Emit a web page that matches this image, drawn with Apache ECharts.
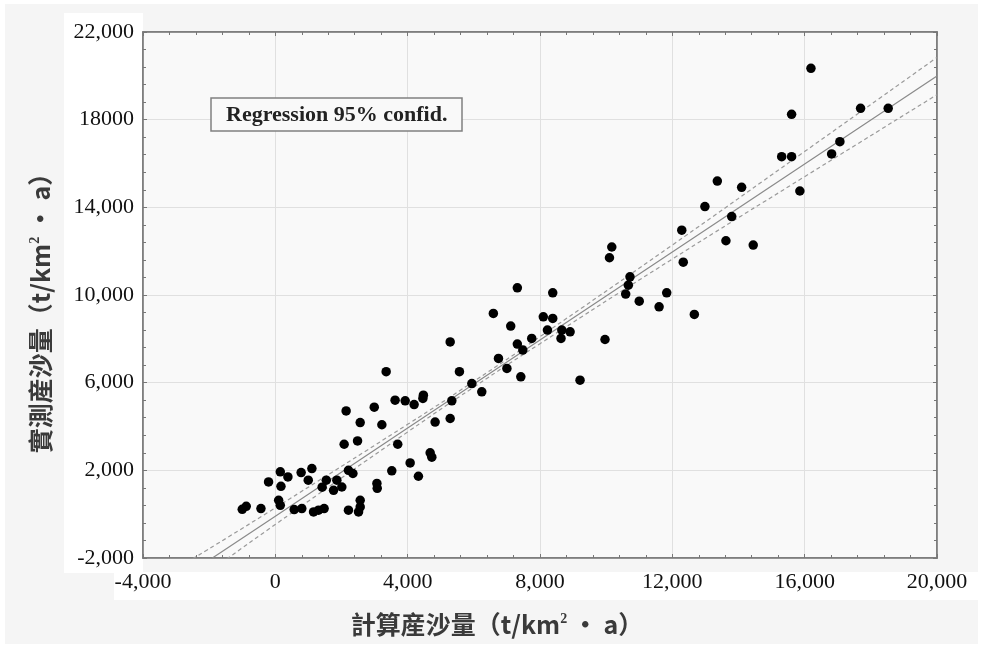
<!DOCTYPE html>
<html>
<head>
<meta charset="utf-8">
<script src="https://cdn.jsdelivr.net/npm/echarts@6/dist/echarts.min.js"></script>
<style>
html,body{margin:0;padding:0;background:#fff;}
#chart{width:983px;height:648px;}
</style>
</head>
<body>
<div id="chart"></div>
<script>
// Scatter points: calculated (x) vs measured (y) sediment yield
const calcX = [-1000,-880,-435,-205,150,380,170,100,150,570,800,780,1105,995,1155,1305,1475,1540,1415,1860,
  1760,2010,2210,2345,2210,2565,2565,2515,2080,2485,2140,2565,2990,3220,3350,3620,3925,4195,4475,4460,
  3700,3070,3080,3520,4075,4325,4680,4730,4830,5285,5335,5285,5565,5940,6240,6745,6590,7000,7115,7315,
  7315,7480,7420,7750,8100,8385,8225,8385,8660,8910,8635,9210,9965,10170,10100,10590,10670,10720,11000,11600,
  11830,12285,12330,12665,12985,13360,13620,13795,14095,14445,15305,15605,15605,15855,16190,16815,17065,17690,18525];
const measY = [220,360,255,1470,1930,1700,1270,635,405,210,255,1900,2080,1550,100,180,255,1550,1230,1550,
  1090,1240,2000,1855,180,635,330,100,3190,3340,4710,4180,4880,4080,6500,5200,5170,5000,5430,5280,
  3190,1400,1180,1980,2340,1730,2800,2600,4200,4365,5170,7860,6500,5960,5580,7105,9160,6650,8580,10330,
  7760,7485,6265,8020,9005,8930,8400,10100,8400,8320,8020,6115,7970,12190,11700,10040,10450,10830,9720,9460,
  10100,12960,11500,9115,14035,15200,12475,13580,14915,12280,16310,16310,18245,14745,20345,16435,16995,18520,18520];

// Regression line and 95% confidence band
const bandX  = [-2500, 0, 4000, 6000, 8000, 12000, 16000, 20000];
const fitY   = [-2600, -90, 3926, 5934, 7942, 11958, 15974, 19990];
const upperY = [-2040, 290, 4100, 6060, 8100, 12280, 16550, 20840];
const lowerY = [-3160, -470, 3750, 5800, 7780, 11640, 15400, 19140];

const xTickLabels = {'-4000':'-4,000','0':'0','4000':'4,000','8000':'8,000','12000':'12,000','16000':'16,000','20000':'20,000'};
const yTickLabels = {'-2000':'-2,000','2000':'2,000','6000':'6,000','10000':'10,000','14000':'14,000','18000':'18000','22000':'22,000'};

const legendText = 'Regression 95% confid.';
const xName = '計算産沙量（t/km{sup|2} • a）';
const yName = '實測産沙量（t/km{sup|2} • a）';

const zip = (a, b) => a.map((v, i) => [v, b[i]]);

const chart = echarts.init(document.getElementById('chart'), null, {renderer: 'canvas'});

const tickColor = '#777';
const serif = '"Liberation Serif", "Times New Roman", serif';
const cjk = '"Noto Sans CJK TC", "Noto Sans CJK JP", sans-serif';
const nameStyle = {
  fontFamily: cjk, fontSize: 25, fontWeight: 'bold', color: '#3a3a3a',
  rich: {sup: {fontFamily: serif, fontSize: 14, fontWeight: 'bold', color: '#3a3a3a', verticalAlign: 'top', lineHeight: 14}}
};

const baseTicks = {
  axisTick: {show: true, inside: true, length: 4, lineStyle: {color: tickColor, width: 1}},
  minorTick: {show: true, splitNumber: 5, length: 3, lineStyle: {color: tickColor, width: 1}},
};

chart.setOption({
  backgroundColor: '#ffffff',
  animation: false,
  graphic: [
    {type: 'rect', z: -100, shape: {x: 5, y: 4, width: 973, height: 640}, style: {fill: '#f5f5f5'}},
    {type: 'rect', z: -90, shape: {x: 64, y: 13, width: 79, height: 560}, style: {fill: '#ffffff'}},
    {type: 'rect', z: -90, shape: {x: 114, y: 572, width: 869, height: 28}, style: {fill: '#ffffff'}}
  ],
  title: {
    text: legendText,
    left: 211, top: 98,
    padding: [6, 15, 5, 15],
    borderColor: '#808080', borderWidth: 1.5,
    backgroundColor: '#f9f9f9',
    textStyle: {fontFamily: serif, fontSize: 22, fontWeight: 'bold', color: '#222'}
  },
  grid: {
    left: 143, right: 46, top: 32, bottom: 90,
    show: true, backgroundColor: '#f9f9f9', borderColor: '#777', borderWidth: 1.5
  },
  xAxis: [
    Object.assign({
      type: 'value', min: -4000, max: 20000, interval: 4000, position: 'bottom',
      name: xName, nameLocation: 'middle', nameGap: 54,
      nameTextStyle: Object.assign({padding: [0, 86, 0, 0]}, nameStyle),
      axisLine: {show: true, onZero: false, lineStyle: {color: tickColor, width: 1.5}},
      axisLabel: {margin: 13, fontFamily: serif, fontSize: 22, color: '#111',
        formatter: v => xTickLabels[String(v)] !== undefined ? xTickLabels[String(v)] : ''},
      splitLine: {show: true, lineStyle: {color: '#e0e0e0', width: 1}}
    }, baseTicks),
    Object.assign({
      type: 'value', min: -4000, max: 20000, interval: 4000, position: 'top',
      axisLine: {show: true, onZero: false, lineStyle: {color: tickColor, width: 1.5}},
      axisLabel: {show: false}, splitLine: {show: false}
    }, baseTicks)
  ],
  yAxis: [
    Object.assign({
      type: 'value', min: -2000, max: 22000, interval: 4000, position: 'left',
      name: yName, nameLocation: 'middle', nameGap: 90, nameRotate: 90,
      nameTextStyle: Object.assign({padding: [0, 24, 0, 0]}, nameStyle),
      axisLine: {show: true, onZero: false, lineStyle: {color: tickColor, width: 1.5}},
      axisLabel: {margin: 9, fontFamily: serif, fontSize: 22, color: '#111',
        formatter: v => yTickLabels[String(v)] !== undefined ? yTickLabels[String(v)] : ''},
      splitLine: {show: true, lineStyle: {color: '#e0e0e0', width: 1}}
    }, baseTicks),
    Object.assign({
      type: 'value', min: -2000, max: 22000, interval: 4000, position: 'right',
      axisLine: {show: true, onZero: false, lineStyle: {color: tickColor, width: 1.5}},
      axisLabel: {show: false}, splitLine: {show: false}
    }, baseTicks)
  ],
  series: [
    {
      name: 'upper95', type: 'line', smooth: true, clip: true, symbol: 'none',
      data: zip(bandX, upperY),
      lineStyle: {color: '#9a9a9a', width: 1.2, type: [4, 3]}
    },
    {
      name: 'lower95', type: 'line', smooth: true, clip: true, symbol: 'none',
      data: zip(bandX, lowerY),
      lineStyle: {color: '#9a9a9a', width: 1.2, type: [4, 3]}
    },
    {
      name: 'Regression', type: 'line', clip: true, symbol: 'none',
      data: zip(bandX, fitY),
      lineStyle: {color: '#8a8a8a', width: 1.2}
    },
    {
      name: 'samples', type: 'scatter', symbol: 'circle', symbolSize: 9.5,
      data: zip(calcX, measY),
      itemStyle: {color: '#000000', opacity: 1}, z: 5
    }
  ]
});
</script>
</body>
</html>
